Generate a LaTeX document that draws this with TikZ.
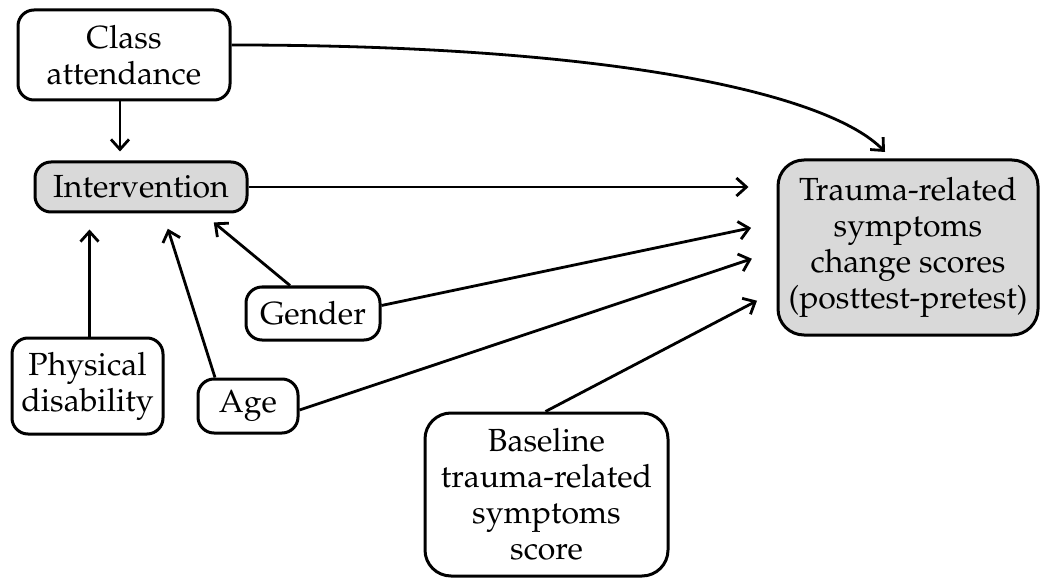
\documentclass[tikz,border=0pt]{standalone}
\usepackage[T1]{fontenc}
\usepackage{mathpazo}
\usepackage{tikz}
\usetikzlibrary{arrows.meta}

\tikzset{
    box/.style={draw, line width=1.5pt, rounded corners=8pt, align=center, font=\fontsize{16}{18}\selectfont, inner sep=2pt},
    shaded/.style={box, fill=black!15},
    link/.style={-{Straight Barb[length=5pt, width=9pt, line width=1.4pt]}, line width=1.4pt, shorten >=4pt}
}

\begin{document}
\begin{tikzpicture}[x=0.5pt, y=-0.5pt]
    \useasboundingbox (0,0) rectangle (1047,582);

    \node[box, minimum width=106pt, minimum height=45pt] (class) at (124,55) {Class\\attendance};
    \node[shaded, minimum width=106pt, minimum height=25pt] (intervention) at (141,187) {Intervention};
    \node[shaded, rounded corners=13pt, minimum width=130pt, minimum height=87.5pt] (trauma) at (908,247.5) {Trauma-related\\symptoms\\change scores\\(posttest-pretest)};
    \node[box, minimum width=67pt, minimum height=26.5pt] (gender) at (313,313.5) {Gender};
    \node[box, minimum width=75.5pt, minimum height=48pt] (disability) at (87.5,386) {Physical\\disability};
    \node[box, minimum width=50pt, minimum height=27pt] (age) at (248,406) {Age};
    \node[box, rounded corners=13pt, minimum width=121.5pt, minimum height=81.5pt] (baseline) at (546.5,494.5) {Baseline\\trauma-related\\symptoms\\score};

    \draw[link, shorten >=4.5pt] ([xshift=-2pt]class.south) -- ([xshift=-2pt]class.south |- intervention.north);
    \draw[link, shorten >=0pt] ([yshift=5pt]class.east) .. controls (620,45) and (830,95) .. (885,152);
    \draw[link, shorten >=14pt] (intervention.east) -- (intervention.east -| trauma.west);
    \draw[link, shorten >=13pt] ([yshift=4pt]gender.east) -- ([yshift=12.5pt]trauma.west);
    \draw[link, shorten >=13pt] ([yshift=-2pt]age.east) -- ([yshift=-1.5pt]trauma.west);
    \draw[link, shorten >=11pt] ([xshift=-0.5pt]baseline.north) -- ([yshift=-21.5pt]trauma.west);
    \draw[link, shorten >=8pt] ([xshift=1pt]disability.north) -- ([xshift=1pt]disability.north |- intervention.south);
    \draw[link, shorten >=8pt] ([xshift=-16.5pt]age.north) -- ([xshift=11pt]intervention.south);
    \draw[link, shorten >=7pt] ([xshift=-11.5pt]gender.north) -- ([xshift=31pt]intervention.south);
\end{tikzpicture}
\end{document}
